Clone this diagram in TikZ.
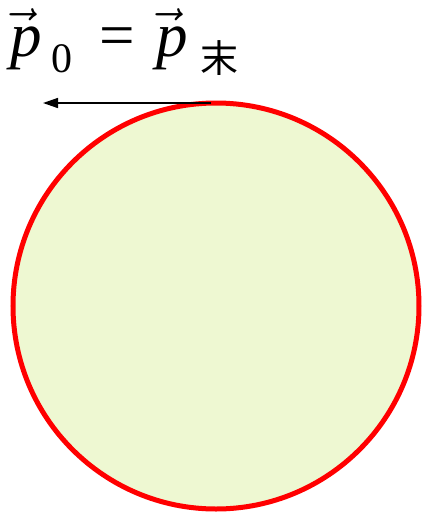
\RequirePackage{fix-cm}
\documentclass[tikz,border=0pt]{standalone}
\usepackage{fontspec}
\setmainfont{Liberation Serif}
\newfontfamily\cjk{Noto Sans CJK SC}
\usetikzlibrary{arrows.meta}
\definecolor{ballfill}{RGB}{238,248,210}
\newcommand\myvp{\hspace{-14pt}$\vec{\mbox{\hspace{14pt}\itshape p}}$}
\begin{document}
\begin{tikzpicture}[x=1pt,y=-1pt,
  big/.style={inner sep=0pt,outer sep=0pt,anchor=base west,font=\fontsize{63}{63}\selectfont},
  sub/.style={inner sep=0pt,outer sep=0pt,anchor=base west,font=\fontsize{42}{42}\selectfont},
  ball/.style={draw=red,line width=5pt,fill=ballfill},
  vel/.style={line width=1.5pt,-{Triangle[length=15pt,width=10pt]}}]
\useasboundingbox (0,0) rectangle (423,515);
\draw[ball] (216,306) circle (203);
\node[big] (p1) at (10,56) {\myvp};
\node[sub] (s0) at (52,72) {0};
\node[big] (eq) at (99,56) {=};
\node[big] (p2) at (156,56) {\myvp};
\node[sub,font=\cjk\fontsize{38}{38}\selectfont] (s1) at (200,72) {末};
\coordinate (a) at (211,103);
\coordinate (b) at (43,103);
\draw[vel] (a) -- (b);
\end{tikzpicture}
\end{document}
